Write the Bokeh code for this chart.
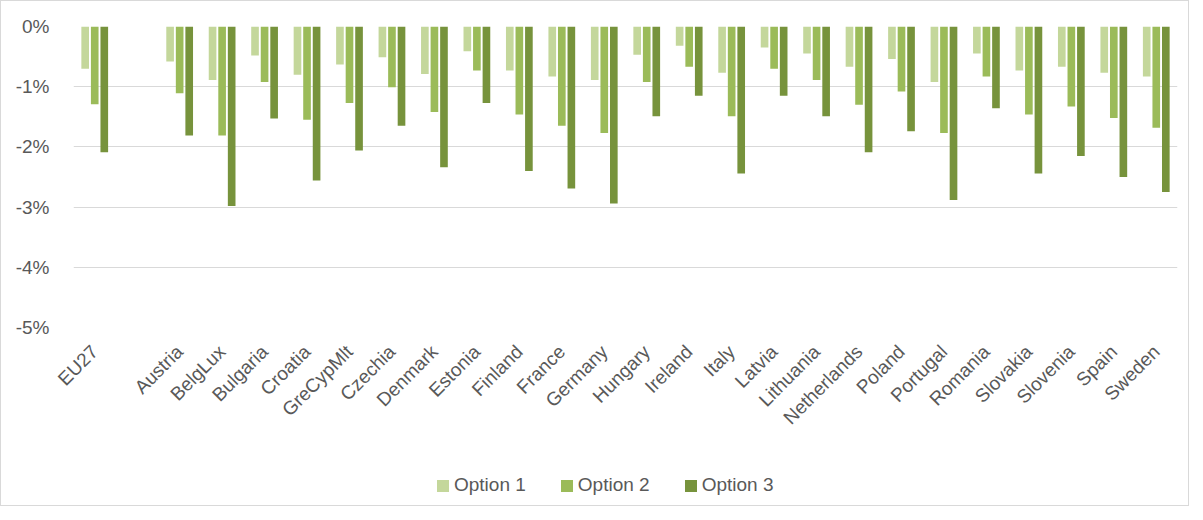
from bokeh.plotting import figure
from bokeh.models import ColumnDataSource, FactorRange, FixedTicker, NumeralTickFormatter, Legend, LegendItem
from bokeh.layouts import column
from bokeh.transform import dodge
from bokeh.embed import file_html
from bokeh.resources import INLINE
import math

countries = ["EU27", " ", "Austria", "BelgLux", "Bulgaria", "Croatia", "GreCypMlt", "Czechia",
             "Denmark", "Estonia", "Finland", "France", "Germany", "Hungary", "Ireland", "Italy",
             "Latvia", "Lithuania", "Netherlands", "Poland", "Portugal", "Romania", "Slovakia",
             "Slovenia", "Spain", "Sweden"]
option1 = [-0.70, 0, -0.58, -0.89, -0.48, -0.80, -0.63, -0.51, -0.79, -0.41, -0.73, -0.83, -0.89,
           -0.47, -0.32, -0.77, -0.35, -0.45, -0.67, -0.54, -0.92, -0.45, -0.73, -0.67, -0.77, -0.83]
option2 = [-1.29, 0, -1.11, -1.81, -0.92, -1.55, -1.27, -1.01, -1.42, -0.73, -1.46, -1.65, -1.77,
           -0.92, -0.67, -1.49, -0.70, -0.89, -1.30, -1.08, -1.77, -0.83, -1.46, -1.33, -1.52, -1.68]
option3 = [-2.09, 0, -1.81, -2.98, -1.53, -2.56, -2.06, -1.65, -2.34, -1.27, -2.40, -2.69, -2.94,
           -1.49, -1.15, -2.44, -1.15, -1.49, -2.09, -1.74, -2.88, -1.36, -2.44, -2.15, -2.50, -2.75]
y_ticks = [0, -0.01, -0.02, -0.03, -0.04, -0.05]
series_names = ["Option 1", "Option 2", "Option 3"]

src = ColumnDataSource(dict(
    x=countries,
    o1=[v / 100 for v in option1],
    o2=[v / 100 for v in option2],
    o3=[v / 100 for v in option3],
))

colors = ["#C4D79B", "#9BBB59", "#77933C"]
FONT = "Liberation Sans"
TXT = "#595959"
W = 1187
H1 = 455
H2 = 49

p = figure(width=W, height=H1, x_range=FactorRange(factors=countries, range_padding=0),
           y_range=(-0.05, 0), output_backend="svg", toolbar_location=None,
           min_border_left=72, min_border_right=11, min_border_top=25, min_border_bottom=H1 - 25 - 301)
p.outline_line_color = None
p.background_fill_color = "white"
p.border_fill_color = "white"

bar_cols = ["o1", "o2", "o3"]
offsets = [-0.225, 0.0, 0.225]
for col, off, c in zip(bar_cols, offsets, colors):
    p.vbar(x=dodge("x", off, range=p.x_range), top=col, width=0.18, source=src,
           fill_color=c, line_color=None)

p.yaxis.ticker = FixedTicker(ticks=y_ticks)
p.yaxis.formatter = NumeralTickFormatter(format="0%")
p.ygrid.grid_line_color = "#d9d9d9"
p.ygrid.grid_line_width = 1
p.xgrid.grid_line_color = None

for ax in (p.xaxis[0], p.yaxis[0]):
    ax.axis_line_color = None
    ax.major_tick_line_color = None
    ax.minor_tick_line_color = None
    ax.major_label_text_color = TXT
    ax.major_label_text_font = FONT
    ax.major_label_text_font_size = "19px"

p.yaxis.major_label_standoff = 18
p.xaxis.major_label_orientation = math.pi / 4
p.xaxis.major_label_standoff = 15

# legend strip below the chart
p2 = figure(width=W, height=H2, x_range=(0, 1), y_range=(0, 1), output_backend="svg",
            toolbar_location=None, min_border=0)
p2.axis.visible = False
p2.grid.visible = False
p2.outline_line_color = None
p2.border_fill_color = "white"
p2.background_fill_color = "white"
# legend-only renderers (zero-height keys, nothing visible in the strip)
key_src = ColumnDataSource(dict(x=[0.5], top=[0]))
leg_renderers = [p2.vbar(x="x", top="top", bottom=0, width=0.01, source=key_src,
                         fill_color=c, line_color=None)
                 for c in colors]
legend = Legend(items=[LegendItem(label=n, renderers=[r]) for n, r in zip(series_names, leg_renderers)],
                orientation="horizontal", location=(362, 9),
                label_text_font=FONT, label_text_font_size="19px", label_text_color=TXT,
                glyph_width=15, glyph_height=15, spacing=33, label_standoff=4,
                label_height=15, background_fill_alpha=0, border_line_color=None, padding=0, margin=0)
p2.add_layout(legend, "center")

layout = column(p, p2, spacing=0, styles={"border": "1px solid #d9d9d9"})

open("out.html", "w").write(file_html(layout, INLINE))
